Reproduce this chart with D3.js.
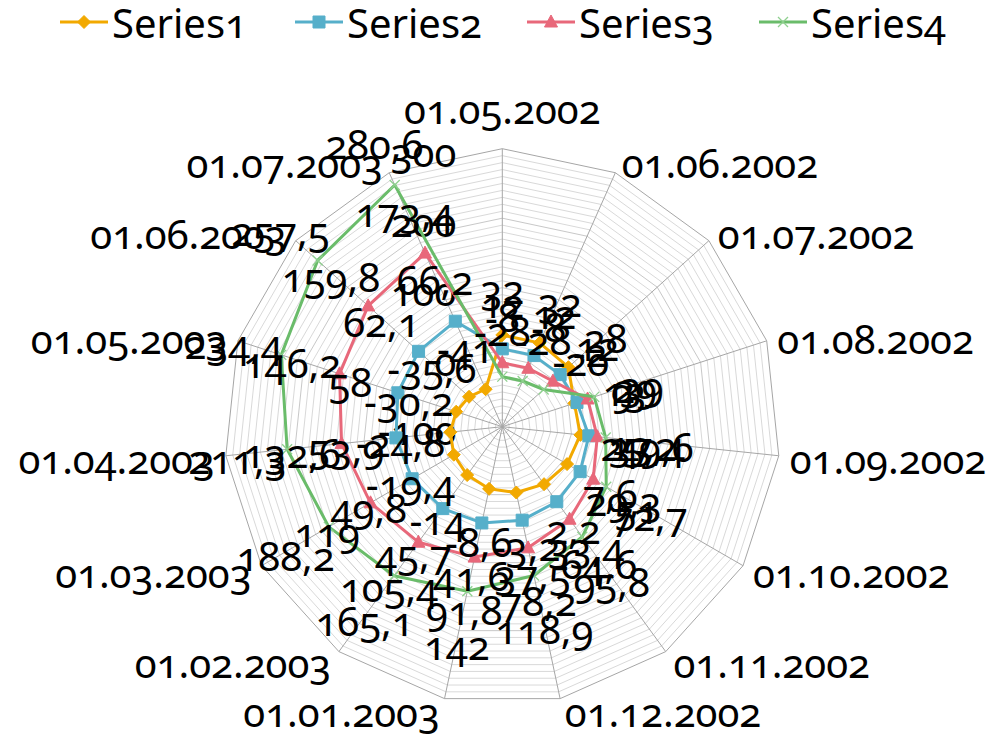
<!DOCTYPE html>
<html><head><meta charset="utf-8">
<script src="https://cdn.jsdelivr.net/npm/d3@7"></script>
<style>
body{margin:0;background:#fff;}
svg text{font-family:"Noto Sans",sans-serif;font-variant-numeric:oldstyle-nums;font-feature-settings:"onum" 1;fill:#000;}
</style></head><body>
<svg id="c" width="997" height="735"></svg>
<script>
const categories = ["01.05.2002","01.06.2002","01.07.2002","01.08.2002","01.09.2002","01.10.2002","01.11.2002","01.12.2002","01.01.2003","01.02.2003","01.03.2003","01.04.2003","01.05.2003","01.06.2003","01.07.2003"];
const series1 = [32,32,28,9,13,7.6,2.2,-3.2,-8.6,-14,-19.4,-24.8,-30.2,-35.6,-41];
const series2 = [12,12,12,13,25.2,29.3,33.4,37.5,41.6,45.7,49.8,53.9,58,62.1,66.2];
const series3 = [-8,-8,-2,29,37.4,51,64.6,78.2,91.8,105.4,119,132.6,146.2,159.8,173.4];
const series4 = [-28,-28,-20,39,49.6,72.7,95.8,118.9,142,165.1,188.2,211.3,234.4,257.5,280.6];
const seriesNames = ["Series1","Series2","Series3","Series4"];
const seriesColors = ["#f2a900","#56afca","#e8687a","#6abc6a"];
const axisTicks = [-100,0,100,200,300];

const svg = d3.select("#c");
const cx = 502.3, cy = 426.7, R = 278;
const FS = 40;
const rScale = d3.scaleLinear().domain([-100,300]).range([0,R]);
const aScale = d3.scaleLinear().domain([0,categories.length]).range([0,2*Math.PI]);
const px = (i,v)=> cx + rScale(v)*Math.sin(aScale(i));
const py = (i,v)=> cy - rScale(v)*Math.cos(aScale(i));
const fmt = v => String(v).replace(".",",");

// grid rings
const gGrid = svg.append("g");
const ringVals = d3.range(-90,301,10);
gGrid.selectAll("polygon.ring").data(ringVals).join("polygon")
  .attr("points", v => categories.map((c,i)=>[px(i,v),py(i,v)].join(",")).join(" "))
  .attr("fill","none")
  .attr("stroke", v => v===300 ? "#a6a6a6" : (v%100===0 ? "#c8c8c8" : "#d9d9d9"))
  .attr("stroke-width",1);
gGrid.selectAll("line.spoke").data(categories).join("line")
  .attr("x1",cx).attr("y1",cy)
  .attr("x2",(c,i)=>px(i,300)).attr("y2",(c,i)=>py(i,300))
  .attr("stroke","#a6a6a6").attr("stroke-width",1);

// axis tick labels
svg.append("g").selectAll("text").data(axisTicks).join("text")
  .attr("x", cx-46).attr("y", v => cy - rScale(v) + 3)
  .attr("text-anchor","end").attr("dominant-baseline","central")
  .attr("font-size",FS).text(d=>d);

// markers
const markerPath = [
  () => "M0,-6.5L6.5,0L0,6.5L-6.5,0Z",
  () => "M-6,-6L6,-6L6,6L-6,6Z",
  () => "M0,-7L6.5,5L-6.5,5Z",
  () => "M-5,-5L5,5M5,-5L-5,5"
];

const allSeries = [series1,series2,series3,series4];
const line = d3.line().curve(d3.curveLinearClosed);
allSeries.forEach((vals,k)=>{
  const g = svg.append("g");
  g.append("path")
    .attr("d", line(vals.map((v,i)=>[px(i,v),py(i,v)])))
    .attr("fill","none").attr("stroke",seriesColors[k]).attr("stroke-width",3)
    .attr("stroke-linejoin","round");
  g.selectAll("path.m").data(vals).join("path").attr("class","m")
    .attr("transform",(v,i)=>`translate(${px(i,v)},${py(i,v)})`)
    .attr("d", markerPath[k]())
    .attr("fill", k===3 ? "none" : seriesColors[k])
    .attr("stroke", k===3 ? "#8fd08f" : seriesColors[k])
    .attr("stroke-width", k===3 ? 1.3 : 1);
});

// data labels
allSeries.forEach((vals,k)=>{
  svg.append("g").selectAll("text").data(vals).join("text")
    .attr("x",(v,i)=> px(i,v) + 50*Math.sin(aScale(i)))
    .attr("y",(v,i)=> py(i,v) - 50*Math.cos(aScale(i)) + 4)
    .attr("text-anchor","middle").attr("dominant-baseline","central")
    .attr("font-size",FS).text(v=>fmt(v));
});

// category labels
svg.append("g").selectAll("text").data(categories).join("text")
  .each(function(c,i){
    const a = aScale(i);
    const vx = px(i,300), vy = py(i,300);
    const s = Math.sin(a), co = Math.cos(a);
    const t = d3.select(this);
    if (Math.abs(s) < 0.01) {
      t.attr("x",vx).attr("y",vy-40).attr("text-anchor","middle");
    } else {
      const off = 3 + 8*Math.abs(s);
      t.attr("x", vx + (s>0?off:-off)).attr("y", vy - co*12 + 1)
       .attr("text-anchor", s>0 ? "start" : "end");
    }
    t.attr("dominant-baseline","central").attr("font-size",FS).text(c);
  });

// legend
const legX = [112,347,579,811];
const leg = svg.append("g");
seriesNames.forEach((n,k)=>{
  const x = legX[k];
  leg.append("line").attr("x1",x-52).attr("x2",x-4).attr("y1",22).attr("y2",22)
    .attr("stroke",seriesColors[k]).attr("stroke-width",3);
  leg.append("path").attr("transform",`translate(${x-28},22)`).attr("d",markerPath[k]())
    .attr("fill", k===3 ? "none" : seriesColors[k])
    .attr("stroke", k===3 ? "#8fd08f" : seriesColors[k]).attr("stroke-width", k===3?1.3:1);
  leg.append("text").attr("x",x).attr("y",22).attr("dominant-baseline","central")
    .attr("font-size",FS).text(n);
});
</script>
</body></html>
